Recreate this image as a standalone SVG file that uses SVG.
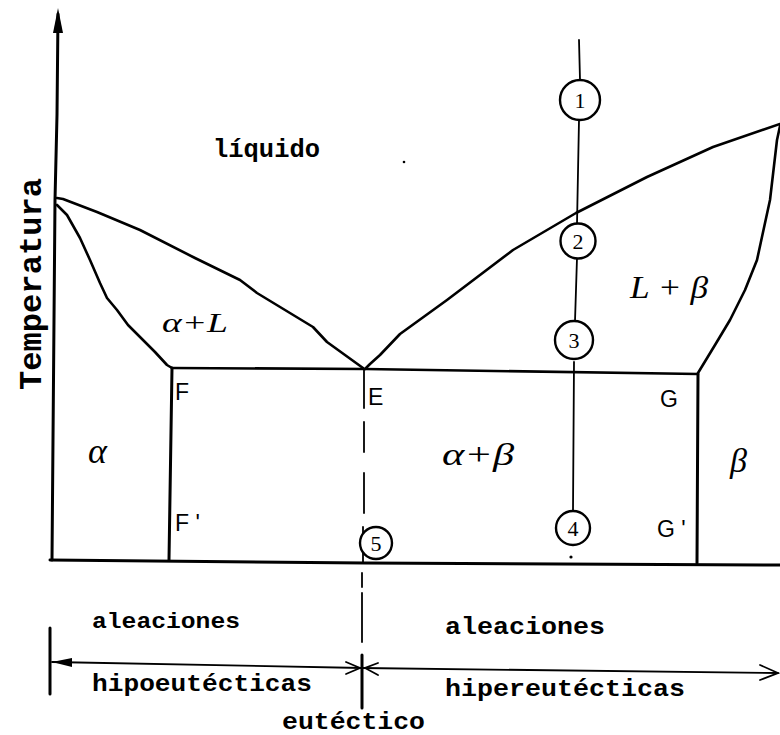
<svg xmlns="http://www.w3.org/2000/svg" width="780" height="735" viewBox="0 0 780 735">
<style>
.ln{fill:none;stroke:#000;stroke-width:2.6;stroke-linejoin:round;stroke-linecap:round}
.thin{fill:none;stroke:#000;stroke-width:1.8;stroke-linecap:round}
.ax{fill:none;stroke:#000;stroke-width:3;stroke-linecap:round;stroke-linejoin:round}
.tw{font-family:"Liberation Mono","DejaVu Sans Mono",monospace;font-weight:bold;fill:#000}
.lb{font-family:"Liberation Sans","DejaVu Sans",sans-serif;fill:#000}
.gr{font-family:"Liberation Serif","DejaVu Serif",serif;font-style:italic;fill:#000}
.cir{fill:#fff;stroke:#000;stroke-width:2.4}
.num{font-family:"Liberation Serif","DejaVu Serif",serif;font-size:22px;fill:#000;text-anchor:middle}
</style>
<rect width="780" height="735" fill="#fff"/>

<g id="axes">
  <polyline class="ax" points="58,14 57,115 55,200 52,560"/>
  <polygon points="58,8 53,33 63,33" fill="#000"/>
  <polyline class="ax" points="50,560 365,563 780,565"/>
</g>

<g id="phase-lines">
  <polyline class="ln" points="57,198 63,199 97,212 140,230 195,258 240,280 257,293 313,327 327,342 363,368"/>
  <polyline class="ln" points="57,205 67,215 80,238 90,260 100,283 107,298 117,310 128,325 140,337 155,352 167,365 172,368"/>
  <polyline class="ln" points="365,369 370,364 380,355 400,334 447,300 513,250 576,213 647,177 713,147 780,124"/>
  <polyline class="ln" points="780,126 777,140 770,200 757,260 745,290 730,320 715,345 698,373"/>
  <polyline class="ln" points="172,368 365,369 698,374"/>
  <polyline class="ax" points="172,368 169,560"/>
  <polyline class="ax" points="698,374 697,563"/>
</g>

<g id="eutectic-line">
  <line class="thin" x1="364" y1="369" x2="364" y2="408"/>
  <line class="thin" x1="364" y1="422" x2="364" y2="452"/>
  <line class="thin" x1="364" y1="473" x2="364" y2="513"/>
  <line class="thin" x1="363" y1="527" x2="363" y2="562"/>
  <line class="thin" x1="362" y1="573" x2="362" y2="587"/>
  <line class="thin" x1="362" y1="593" x2="362" y2="642"/>
  <line class="ax" x1="362" y1="655" x2="362" y2="708"/>
</g>

<g id="composition-line">
  <line class="thin" x1="579" y1="40" x2="580" y2="80"/>
  <line class="thin" x1="579" y1="120" x2="577" y2="224"/>
  <line class="thin" x1="577" y1="258" x2="575" y2="321"/>
  <line class="thin" x1="574" y1="362" x2="573" y2="510"/>
  <circle cx="571" cy="557" r="1.6" fill="#000"/>
  <circle cx="404" cy="162" r="1.3" fill="#000"/>
</g>

<g id="point1"><circle class="cir" cx="580" cy="100" r="20"/><text class="num" x="580" y="108">1</text></g>
<g id="point2"><circle class="cir" cx="578" cy="241" r="17.5"/><text class="num" x="578" y="249">2</text></g>
<g id="point3"><circle class="cir" cx="574" cy="340" r="19"/><text class="num" x="574" y="348">3</text></g>
<g id="point4"><circle class="cir" cx="573" cy="528" r="17"/><text class="num" x="573" y="536">4</text></g>
<g id="point5"><circle class="cir" cx="376" cy="543" r="16"/><text class="num" x="376" y="551">5</text></g>

<g id="bottom-arrows">
  <line class="ax" x1="50" y1="628" x2="50" y2="694"/>
  <polyline class="thin" points="52,662 362,668 778,673"/>
  <polygon points="52,662 72,658 72,667" fill="#000"/>
  <polyline class="thin" points="346,662 360,668 346,674"/>
  <polyline class="thin" points="378,663 365,668 378,675"/>
  <polyline class="thin" points="760,665 778,673 760,680"/>
</g>

<g id="labels-text">
  <text class="tw" x="213" y="157" font-size="25" textLength="107" lengthAdjust="spacingAndGlyphs">líquido</text>
  <text class="tw" font-size="31" textLength="212" lengthAdjust="spacingAndGlyphs" transform="translate(41,390) rotate(-90)">Temperatura</text>
  <text class="tw" x="92" y="628" font-size="22" textLength="148" lengthAdjust="spacingAndGlyphs">aleaciones</text>
  <text class="tw" x="445" y="634" font-size="24" textLength="160" lengthAdjust="spacingAndGlyphs">aleaciones</text>
  <text class="tw" x="92" y="691" font-size="24" textLength="220" lengthAdjust="spacingAndGlyphs">hipoeutécticas</text>
  <text class="tw" x="445" y="696" font-size="24" textLength="240" lengthAdjust="spacingAndGlyphs">hipereutécticas</text>
  <text class="tw" x="282" y="729" font-size="24" textLength="143" lengthAdjust="spacingAndGlyphs">eutéctico</text>
</g>

<g id="point-labels">
  <text class="lb" x="175" y="400" font-size="23">F</text>
  <text class="lb" x="175" y="531" font-size="23">F '</text>
  <text class="lb" x="368" y="405" font-size="23">E</text>
  <text class="lb" x="660" y="407" font-size="23">G</text>
  <text class="lb" x="657" y="537" font-size="23">G '</text>
</g>

<g id="phase-labels">
  <text class="gr" x="162" y="332" font-size="28" textLength="66" lengthAdjust="spacingAndGlyphs">α+L</text>
  <text class="gr" x="88" y="463" font-size="36">α</text>
  <text class="gr" x="442" y="465" font-size="32" textLength="72" lengthAdjust="spacingAndGlyphs">α+β</text>
  <text class="gr" x="730" y="472" font-size="34">β</text>
  <text class="gr" x="630" y="298" font-size="32" textLength="78" lengthAdjust="spacingAndGlyphs">L + β</text>
</g>
</svg>
